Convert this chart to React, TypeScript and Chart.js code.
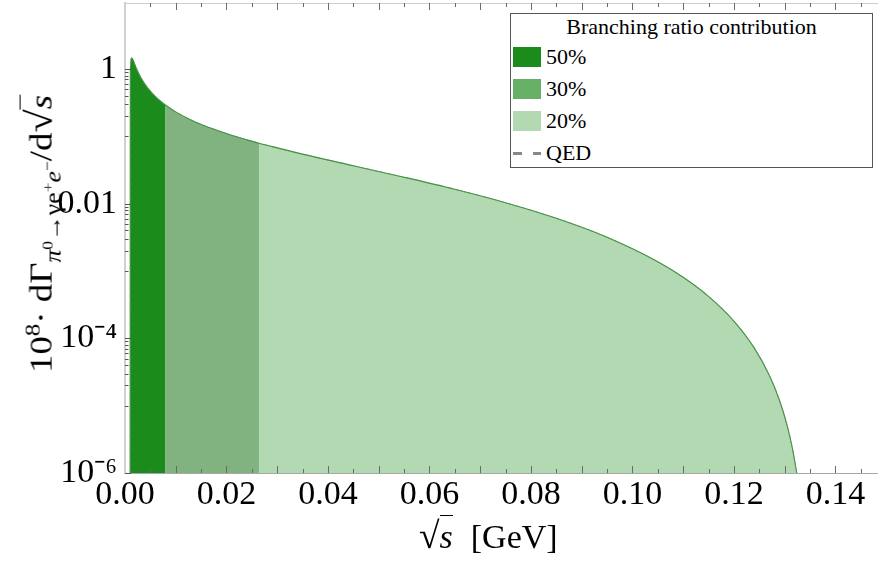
import React, { useEffect, useRef } from "react";
import { Chart, registerables } from "chart.js";

Chart.register(...registerables);

const SERIF = '"Liberation Serif", "Times New Roman", Times, serif';
Chart.defaults.font.family = SERIF;

// ---- data (sqrt(s) in GeV, 10^8 * dGamma/dsqrt(s)) ----
const band50X = [0.00102, 0.00105, 0.0011, 0.0012, 0.0013, 0.0015, 0.0018, 0.0022, 0.0027, 0.0035, 0.0045, 0.006, 0.0079];
const band50Y = [0.000001, 0.755, 1.128, 1.395, 1.459, 1.409, 1.244, 1.044, 0.86, 0.666, 0.519, 0.388, 0.294];
const band30X = [0.0079, 0.01, 0.013, 0.017, 0.021, 0.0264];
const band30Y = [0.294, 0.2306, 0.1753, 0.1314, 0.1037, 0.079];
const band20X = [0.0264, 0.035, 0.045, 0.055, 0.065, 0.075, 0.085, 0.095, 0.105, 0.11, 0.115, 0.12, 0.124, 0.127, 0.129, 0.1305, 0.1315, 0.1324];
const band20Y = [0.079, 0.05436, 0.03658, 0.02472, 0.01635, 0.01033, 0.006063, 0.003174, 0.0013765, 0.000809, 0.000421, 0.0001806, 0.0000722, 0.0000281, 0.00001193, 0.00000506, 0.00000239, 0.000001];

const LEGEND_LABELS = ["50%", "30%", "20%"];
const FILL_COLORS = ["#1b8b1b", "#80b380", "#b3d9b3"];
const SWATCH_COLORS = ["#1b8b1b", "#68b068", "#b3d9b3"];

// ---- axes ----
const X_MIN = 0;
const X_MAX = 0.1484;
const Y_MIN = 0.000001;
const Y_MAX = 9.55;
const X_TICKS = [0, 0.005, 0.01, 0.015, 0.02, 0.025, 0.03, 0.035, 0.04, 0.045, 0.05, 0.055, 0.06, 0.065, 0.07, 0.075, 0.08, 0.085, 0.09, 0.095, 0.1, 0.105, 0.11, 0.115, 0.12, 0.125, 0.13, 0.135, 0.14, 0.145];
const X_LONG = [0.01, 0.02, 0.03, 0.04, 0.05, 0.06, 0.07, 0.08, 0.09, 0.1, 0.11, 0.12, 0.13, 0.14];
const X_LABEL_VALUES = [0, 0.02, 0.04, 0.06, 0.08, 0.1, 0.12, 0.14];
const X_LABELS = ["0.00", "0.02", "0.04", "0.06", "0.08", "0.10", "0.12", "0.14"];
const Y_TICKS = [
  1, 0.9, 0.8, 0.7, 0.6, 0.5, 0.4, 0.3, 0.2, 0.1,
  0.01, 0.009, 0.008, 0.007, 0.006, 0.005, 0.004, 0.003, 0.002, 0.001,
  0.0001, 0.00009, 0.00008, 0.00007, 0.00006, 0.00005, 0.00004, 0.00003, 0.00002, 0.00001,
  0.000001,
];
const Y_LABEL_VALUES = [1, 0.01, 0.0001, 0.000001];
const Y_LABELS = ["1", "0.01", "10\u207B\u2074", "10\u207B\u2076"];

const pts = (xs: number[], ys: number[]) => xs.map((x, i) => ({ x, y: ys[i] }));

const inwardTicks = {
  id: "inwardTicks",
  afterDatasetsDraw(chart: any) {
    const { ctx, chartArea: a } = chart;
    const xs = chart.scales.x;
    const ys = chart.scales.y;
    ctx.save();
    ctx.lineWidth = 1;
    ctx.strokeStyle = "#cfcfcf";
    ctx.beginPath();
    ctx.moveTo(a.left, a.top + 0.5);
    ctx.lineTo(a.right, a.top + 0.5);
    ctx.stroke();
    ctx.strokeStyle = "#6a6a6a";
    for (const t of xs.ticks) {
      if (t.value === 0) continue;
      const px = Math.round(xs.getPixelForValue(t.value)) + 0.5;
      const len = X_LONG.includes(t.value) ? 7 : 4;
      ctx.beginPath();
      ctx.moveTo(px, a.bottom);
      ctx.lineTo(px, a.bottom - len);
      ctx.moveTo(px, a.top);
      ctx.lineTo(px, a.top + len);
      ctx.stroke();
    }
    ctx.strokeStyle = "#555";
    for (const t of ys.ticks) {
      const py = Math.round(ys.getPixelForValue(t.value)) + 0.5;
      const len = Y_LABEL_VALUES.includes(t.value) ? 6 : 3.5;
      ctx.beginPath();
      ctx.moveTo(a.left, py);
      ctx.lineTo(a.left + len, py);
      ctx.stroke();
    }
    ctx.restore();
  },
};

function ChartCanvas() {
  const ref = useRef<HTMLCanvasElement | null>(null);
  useEffect(() => {
    if (!ref.current) return;
    const d50 = pts(band50X, band50Y);
    const d30 = pts(band30X, band30Y);
    const d20 = pts(band20X, band20Y);
    const qed = [...d50, ...d30.slice(1), ...d20.slice(1)];
    const band = (data: any[], i: number) => ({
      label: LEGEND_LABELS[i],
      data,
      fill: "start",
      backgroundColor: FILL_COLORS[i],
      borderColor: "#2f982f",
      borderWidth: 1.1,
      pointRadius: 0,
      cubicInterpolationMode: "monotone",
      order: 1,
    });
    const tickFont = { family: SERIF, size: 34 };
    const chart = new Chart(ref.current, {
      type: "line",
      data: {
        datasets: [
          {
            label: "QED",
            data: qed,
            fill: false,
            borderColor: "rgba(130,130,130,0.7)",
            borderWidth: 1,
            borderDash: [4, 3],
            pointRadius: 0,
            cubicInterpolationMode: "monotone",
            order: 0,
          } as any,
          band(d50, 0) as any,
          band(d30, 1) as any,
          band(d20, 2) as any,
        ],
      },
      options: {
        animation: false,
        responsive: false,
        layout: { padding: { top: 3, right: 0, left: 0, bottom: 0 } },
        plugins: { legend: { display: false }, tooltip: { enabled: false }, title: { display: false } },
        scales: {
          x: {
            type: "linear",
            min: X_MIN,
            max: X_MAX,
            grid: { display: false, drawTicks: false },
            border: { display: true, color: "#a8a8a8", width: 1 },
            afterBuildTicks: (s: any) => {
              s.ticks = X_TICKS.map((v) => ({ value: v }));
            },
            afterFit: (s: any) => {
              s.height = 90;
              s.paddingLeft = 0;
              s.paddingRight = 0;
            },
            ticks: {
              autoSkip: false,
              maxRotation: 0,
              padding: 2,
              color: "#000",
              font: tickFont,
              callback: (v: any) => {
                const i = X_LABEL_VALUES.indexOf(Number(v));
                return i >= 0 ? X_LABELS[i] : "";
              },
            },
          },
          y: {
            type: "logarithmic",
            min: Y_MIN,
            max: Y_MAX,
            grid: { display: false, drawTicks: false },
            border: { display: true, color: "#d0d0d0", width: 2 },
            afterBuildTicks: (s: any) => {
              s.ticks = Y_TICKS.map((v) => ({ value: v }));
            },
            afterFit: (s: any) => {
              s.width = 125;
              s.paddingTop = 0;
              s.paddingBottom = 0;
            },
            ticks: {
              autoSkip: false,
              padding: 8,
              color: "#000",
              font: tickFont,
              callback: (v: any) => {
                const i = Y_LABEL_VALUES.indexOf(Number(v));
                return i >= 0 ? Y_LABELS[i] : "";
              },
            },
          },
        },
      } as any,
      plugins: [inwardTicks],
    });
    return () => chart.destroy();
  }, []);
  return <canvas ref={ref} width={878} height={563} style={{ width: 878, height: 563, display: "block" }} />;
}

const supS: React.CSSProperties = { fontSize: "0.68em", verticalAlign: "0.55em", lineHeight: 0 };
const subS: React.CSSProperties = { fontSize: "0.7em", verticalAlign: "-0.38em", lineHeight: 0 };

export default function App() {
  return (
    <div style={{ position: "absolute", left: 0, top: 0, width: 878, height: 563, background: "#fff", fontFamily: SERIF, color: "#000" }}>
      <ChartCanvas />
      {/* y-axis title */}
      <div
        style={{
          position: "absolute",
          left: 40,
          top: 234,
          transform: "translate(-50%, -50%) rotate(-90deg) scaleX(1.15)",
          whiteSpace: "nowrap",
          fontSize: 32,
          lineHeight: 1,
        }}
      >
        10<span style={supS}>8</span>· dΓ
        <span style={subS}>
          <i>π</i>
          <span style={supS}>0</span>→γe<span style={supS}>+</span>
          <i>e</i>
          <span style={supS}>−</span>
        </span>
        /d<span style={{ fontSize: "1.15em" }}>√</span>
        <span style={{ borderTop: "1.5px solid #000", fontStyle: "italic", paddingTop: 2 }}>s</span>
      </div>
      {/* x-axis title */}
      <div style={{ position: "absolute", left: 419, top: 517, whiteSpace: "nowrap", fontSize: 34, lineHeight: 1 }}>
        <span style={{ fontSize: "1.1em" }}>√</span>
        <span style={{ borderTop: "1.5px solid #000", fontStyle: "italic", paddingTop: 2 }}>s</span>
        <span style={{ marginLeft: 18 }}>[GeV]</span>
      </div>
      {/* legend */}
      <div
        style={{
          position: "absolute",
          left: 510,
          top: 13,
          width: 363,
          height: 155,
          border: "1.5px solid #555",
          boxSizing: "border-box",
          background: "#fff",
        }}
      >
        <div style={{ position: "absolute", left: 0, right: 0, top: 1, textAlign: "center", fontSize: 22, lineHeight: "24px" }}>
          Branching ratio contribution
        </div>
        {LEGEND_LABELS.map((lab, i) => (
          <div key={lab} style={{ position: "absolute", left: 2, top: 33 + i * 32, height: 20, display: "flex", alignItems: "center" }}>
            <div style={{ width: 28, height: 20, background: SWATCH_COLORS[i] }} />
            <span style={{ marginLeft: 5, fontSize: 22, lineHeight: "20px" }}>{lab}</span>
          </div>
        ))}
        <div style={{ position: "absolute", left: 2, top: 129, height: 20, display: "flex", alignItems: "center" }}>
          <div style={{ width: 28, height: 3, display: "flex", justifyContent: "space-between" }}>
            <div style={{ width: 9, height: 3, background: "#888" }} />
            <div style={{ width: 8, height: 3, background: "#888" }} />
          </div>
          <span style={{ marginLeft: 5, fontSize: 22, lineHeight: "20px" }}>QED</span>
        </div>
      </div>
    </div>
  );
}
